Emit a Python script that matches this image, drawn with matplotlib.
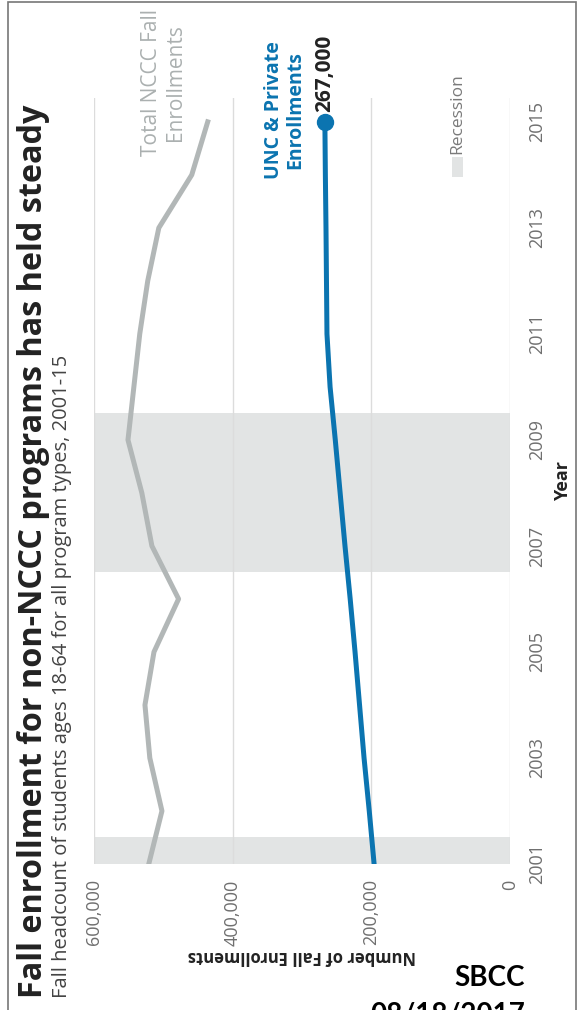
import matplotlib
matplotlib.use("Agg")
import matplotlib.pyplot as plt
from matplotlib.patches import Rectangle

# --- Data ---
years = [2001, 2002, 2003, 2004, 2005, 2006, 2007, 2008,
         2009, 2010, 2011, 2012, 2013, 2014, 2015]
nccc_total = [521000, 502000, 519500, 526500, 513500, 478000, 516500, 531000,
              551000, 542500, 534000, 522500, 506500, 459000, 436000]
unc_private = [196000, 203000, 210500, 217000, 223500, 230500, 238000, 245000,
               252000, 259500, 264000, 264700, 265400, 266300, 267000]
recession_years = [(2001, 2001), (2007, 2009)]
value_ticks = [0, 200000, 400000, 600000]
year_ticks = [2001, 2003, 2005, 2007, 2009, 2011, 2013, 2015]

TITLE = "Fall enrollment for non-NCCC programs has held steady"
SUBTITLE = "Fall headcount of students ages 18-64 for all program types, 2001-15"

# --- Colours ---
BLUE = "#0b74b0"
GREY_LINE = "#b2b7b7"
GREY_LABEL = "#abb0b0"
BAND = "#e2e4e4"
TICK = "#6f6f6f"

plt.rcParams["font.family"] = ["Open Sans", "DejaVu Sans"]

W, H = 583, 1010
fig = plt.figure(figsize=(W / 100, H / 100), dpi=100)

# axes box in pixels: left 94, right 510, top 98, bottom 864
ax = fig.add_axes([94 / W, 1 - 864 / H, (510 - 94) / W, (864 - 98) / H])

for start, end in recession_years:
    ax.axhspan(start - 0.5, end + 0.5, color=BAND, lw=0, zorder=0)

ax.plot(nccc_total, years, color=GREY_LINE, lw=3.6, solid_joinstyle="round", zorder=3)
ax.plot(unc_private, years, color=BLUE, lw=3.6, solid_joinstyle="round", zorder=4)
ax.plot(unc_private[-1], years[-1], "o", color=BLUE, ms=11.5, zorder=5)

ax.set_xlim(600000, 0)
ax.set_ylim(2001, 2015.45)

ax.set_xticks(value_ticks)
ax.set_xticklabels([f"{v:,}" for v in value_ticks], rotation=90)
ax.yaxis.tick_right()
ax.set_yticks(year_ticks)
ax.set_yticklabels([str(y) for y in year_ticks], rotation=90, va="center")
ax.tick_params(axis="x", length=0, pad=11, labelsize=13, labelcolor=TICK)
ax.tick_params(axis="y", length=0, pad=13, labelsize=13, labelcolor=TICK)

ax.grid(axis="x", color="#dcdcdc", lw=1)
ax.grid(axis="y", visible=False)
ax.set_axisbelow(True)
for s in ax.spines.values():
    s.set_visible(False)

ax.set_xlabel("Number of Fall Enrollments", rotation=180, fontsize=12,
              fontweight="bold", color="#222222")
ax.xaxis.set_label_coords(0.5, (864 - 947) / 766)
ax.set_ylabel("Year", rotation=90, fontsize=13, fontweight="bold", color="#222222")
ax.yaxis.set_label_position("right")
ax.yaxis.set_label_coords((554 - 94) / 416, 0.5)

# line labels
ax.text(500000, 2015.74, "Total NCCC Fall\nEnrollments", rotation=90,
        ha="center", va="center", multialignment="center", fontsize=15,
        color=GREY_LABEL, linespacing=1.15, clip_on=False)
ax.text(325000, 2015.23, "UNC & Private\nEnrollments", rotation=90,
        ha="center", va="center", multialignment="center", fontsize=14,
        fontweight="bold", color=BLUE, linespacing=1.05, clip_on=False)
ax.annotate(f"{unc_private[-1]:,}", xy=(unc_private[-1], years[-1]),
            xytext=(0, 7), textcoords="offset points", rotation=90,
            ha="center", va="bottom", fontsize=15, fontweight="bold",
            color="#222222", annotation_clip=False)

# recession key
ax.add_patch(Rectangle(((452 - 94) / 416, (864 - 177) / 766), 11 / 416, 20 / 766,
                       transform=ax.transAxes, color=BAND, lw=0, clip_on=False))
ax.text((457 - 94) / 416, (864 - 154) / 766, "Recession", transform=ax.transAxes,
        rotation=90, ha="center", va="bottom", fontsize=12.5, color="#7a7a7a")

# title block
fig.text(34 / W, 1 - 998 / H, TITLE, rotation=90, ha="center", va="bottom",
         fontsize=23.3, fontweight="bold", color="#222222")
fig.text(62 / W, 1 - 998 / H, SUBTITLE, rotation=90, ha="center", va="bottom",
         fontsize=14.5, color="#444444")

# stamp (the second line runs off the bottom edge, as in the original)
fig.text(525 / W, 1 - 986 / H, "SBCC", ha="right", va="baseline",
         fontsize=20, fontweight="bold", color="black", family=["Lato", "DejaVu Sans"])
fig.text(525 / W, 1 - 1023 / H, "08/18/2017", ha="right", va="baseline",
         fontsize=20, fontweight="bold", color="black", family=["Lato", "DejaVu Sans"])

# outer frame
fig.patches.append(Rectangle((8 / W, -0.02), (576 - 8) / W, 1.02 - 1.5 / H,
                             transform=fig.transFigure, fill=False,
                             edgecolor="#777777", lw=1.2))

fig.savefig("out.png", dpi=100)
